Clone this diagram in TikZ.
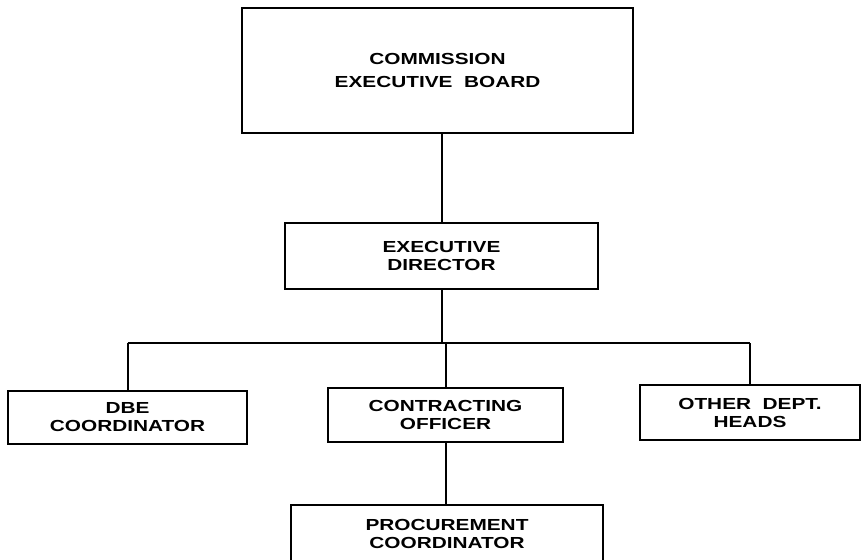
\documentclass[tikz,border=0pt]{standalone}
\usepackage{fontspec}
\setmainfont{Liberation Sans}[FakeStretch=1.3]
\begin{document}
\begin{tikzpicture}[x=1pt,y=-1pt,
  box/.style={draw,line width=2pt,align=center,inner sep=0pt,
    font=\fontsize{16}{18}\selectfont\bfseries},
  conn/.style={line width=2pt}]
\useasboundingbox (0,0) rectangle (863,560);
\node[box,minimum width=391pt,minimum height=125pt,font=\fontsize{16}{23}\selectfont\bfseries] (ceb) at (437.5,70.5) {COMMISSION\\EXECUTIVE\ \ BOARD};
\node[box,minimum width=313pt,minimum height=66pt] (ed) at (441.5,256) {EXECUTIVE\\DIRECTOR};
\node[box,minimum width=239pt,minimum height=53pt] (dbe) at (127.5,417.5) {DBE\\COORDINATOR};
\node[box,minimum width=235pt,minimum height=54pt] (co) at (445.5,415) {CONTRACTING\\OFFICER};
\node[box,minimum width=220pt,minimum height=55pt] (odh) at (750,412.5) {OTHER\ \ DEPT.\\HEADS};
\node[box,minimum width=312pt,minimum height=58pt] (pc) at (447,534) {PROCUREMENT\\COORDINATOR};
\coordinate (j) at (442,343);
\draw[conn] (ed.north) -- (ed.north |- ceb.south);
\draw[conn] (ed.south) -- (ed.south |- j);
\draw[conn] (dbe.north |- j) -- (odh.north |- j);
\draw[conn] (dbe.north) -- (dbe.north |- j);
\draw[conn] (odh.north) -- (odh.north |- j);
\draw[conn] (co.north) -- (co.north |- j);
\draw[conn] (co.south) -- (pc.north -| co.south);
\end{tikzpicture}
\end{document}
